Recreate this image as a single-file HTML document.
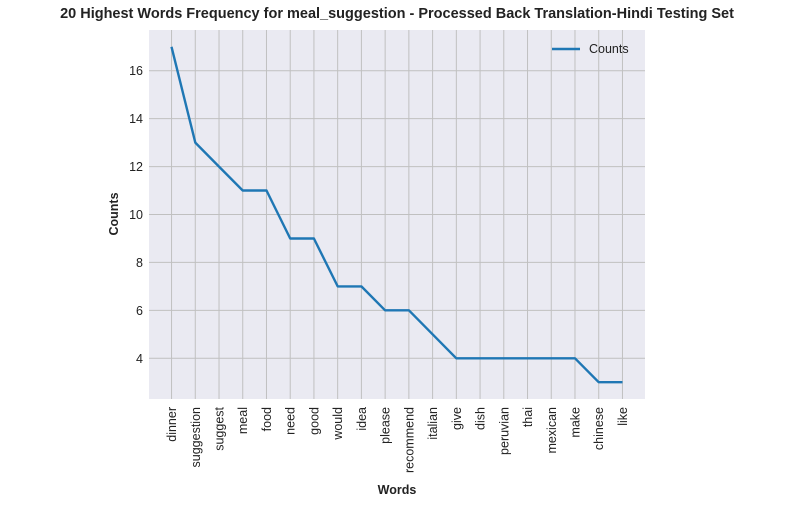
<!DOCTYPE html>
<html><head><meta charset="utf-8"><style>
body{margin:0;background:#fff;}
svg{font-family:"Liberation Sans",Arial,sans-serif;display:block}
</style></head><body>
<svg width="794" height="507">
<text x="397" y="18" text-anchor="middle" font-size="14.5" font-weight="bold" fill="#222">20 Highest Words Frequency for meal_suggestion - Processed Back Translation-Hindi Testing Set</text>
<rect x="149" y="30" width="496" height="369" fill="#eaeaf2"/>
<g id="grid"></g><g id="ticks"></g>
<path id="line" fill="none" stroke="#1f77b4" stroke-width="2.4" stroke-linejoin="round"/>
<g>
<line x1="552" y1="49" x2="580" y2="49" stroke="#1f77b4" stroke-width="2.4"/>
<text x="589" y="53" font-size="12.5" fill="#222">Counts</text>
</g>
<text x="118" y="214" transform="rotate(-90 118 214)" text-anchor="middle" font-size="12.5" font-weight="bold" fill="#222">Counts</text>
<text x="397" y="494" text-anchor="middle" font-size="12.5" font-weight="bold" fill="#222">Words</text>
</svg>
<script>
const categories=["dinner","suggestion","suggest","meal","food","need","good","would","idea","please","recommend","italian","give","dish","peruvian","thai","mexican","make","chinese","like"];
const counts=[17,13,12,11,11,9,9,7,7,6,6,5,4,4,4,4,4,4,3,3];
const yTicks=[4,6,8,10,12,14,16];
const NS="http://www.w3.org/2000/svg";
const x0=149,x1=645,yTop=30,yBot=399;
const xmin=-0.95,xmax=categories.length-1+0.95;
const lo=Math.min(...counts),hi=Math.max(...counts),pad=(hi-lo)*0.05;
const ymin=lo-pad,ymax=hi+pad;
const xs=i=>x0+(i-xmin)/(xmax-xmin)*(x1-x0);
const ys=v=>yBot-(v-ymin)/(ymax-ymin)*(yBot-yTop);
const grid=document.getElementById('grid'),ticks=document.getElementById('ticks');
function mk(t,a,p){const e=document.createElementNS(NS,t);for(const k in a)e.setAttribute(k,a[k]);p.appendChild(e);return e;}
yTicks.forEach(v=>{
 const l=mk('line',{x1:x0,x2:x1,y1:ys(v),y2:ys(v),stroke:'#c0c0c0','stroke-width':1},grid);
 
 
 const t=mk('text',{x:x0-6,y:ys(v)+4.5,'text-anchor':'end','font-size':12.5,fill:'#222'},ticks);
 t.textContent=v;
 
 
});
categories.forEach((c,i)=>{
 const x=xs(i);
 const l=mk('line',{x1:x,x2:x,y1:yTop,y2:yBot,stroke:'#c0c0c0','stroke-width':1},grid);
 
 
 const t=mk('text',{x:x+4.5,y:yBot+8,'text-anchor':'end','font-size':12.5,fill:'#222',transform:`rotate(-90 ${x+4.5} ${yBot+8})`},ticks);
 t.textContent=c;
 
 
});
document.getElementById('line').setAttribute('d',counts.map((v,i)=>(i?'L':'M')+xs(i).toFixed(1)+','+ys(v).toFixed(1)).join(''));
</script>
</body></html>
